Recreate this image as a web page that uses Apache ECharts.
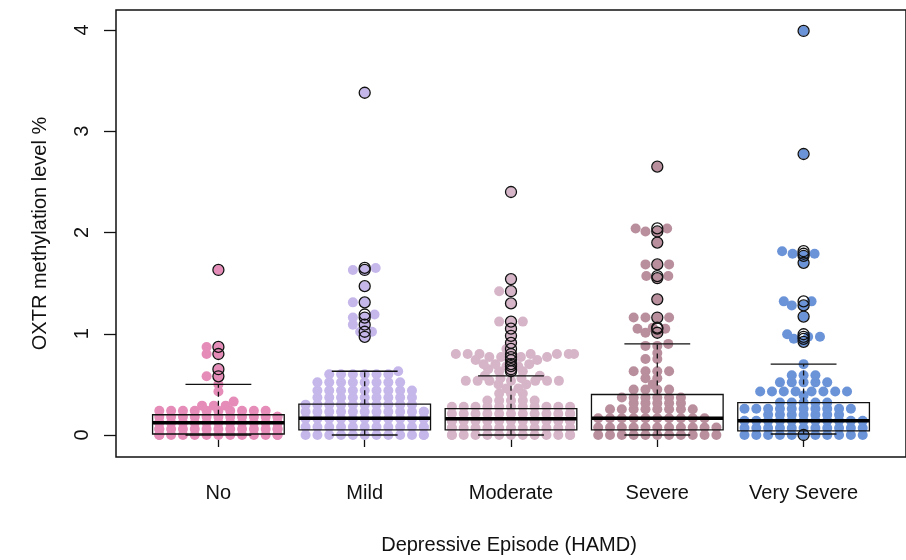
<!DOCTYPE html>
<html>
<head>
<meta charset="utf-8">
<script src="https://cdn.jsdelivr.net/npm/echarts@6/dist/echarts.min.js"></script>
<style>
    html, body { margin: 0; padding: 0; background: #fff; }
    #main { width: 906px; height: 560px; }
</style>
</head>
<body>
<div id="main"></div>
<script>
var categories = ['No', 'Mild', 'Moderate', 'Severe', 'Very Severe'];
var y_ticks = [0, 1, 2, 3, 4];

// rows of the swarm: [methylation %, number of subjects at that level]
var no_rows = [[0.00, 13], [0.06, 13], [0.12, 13], [0.18, 12], [0.24, 10], [0.29, 3], [0.33, 1],
    [0.43, 1], [0.50, 1], [0.58, 2], [0.65, 1], [0.80, 2], [0.87, 2], [1.63, 1]];
var mild_rows = [[0.00, 12], [0.08, 12], [0.16, 12], [0.23, 12], [0.30, 10], [0.37, 9], [0.44, 9],
    [0.52, 8], [0.60, 6], [0.63, 1],
    [0.97, 1], [1.02, 2], [1.09, 2], [1.16, 2], [1.19, 1], [1.31, 2], [1.47, 1], [1.63, 2], [1.65, 1], [3.38, 1]];
var moderate_rows = [[0.00, 13], [0.07, 13], [0.14, 13], [0.21, 12], [0.28, 11], [0.34, 5], [0.41, 3],
    [0.46, 2], [0.50, 2], [0.535, 7], [0.56, 2], [0.585, 2],
    [0.63, 3], [0.65, 1], [0.68, 2], [0.70, 3], [0.74, 3], [0.77, 4], [0.80, 8], [0.85, 1], [0.91, 1],
    [0.98, 1], [1.05, 1], [1.12, 3], [1.30, 1], [1.42, 2], [1.54, 1], [2.40, 1]];
var severe_rows = [[0.00, 11], [0.075, 11], [0.165, 10], [0.255, 8], [0.315, 5], [0.37, 6], [0.45, 4],
    [0.50, 1], [0.56, 2], [0.63, 4], [0.75, 2], [0.81, 1], [0.88, 2], [0.90, 1],
    [1.01, 2], [1.05, 2], [1.06, 1], [1.16, 4], [1.34, 1], [1.55, 1], [1.57, 2], [1.685, 3], [1.90, 1],
    [2.01, 2], [2.04, 2], [2.65, 1]];
var very_severe_rows = [[0.00, 11], [0.07, 11], [0.14, 11], [0.20, 7], [0.26, 10], [0.32, 5], [0.39, 1],
    [0.43, 8], [0.52, 5], [0.59, 3], [0.70, 1],
    [0.92, 1], [0.95, 1], [0.97, 2], [0.995, 1], [1.17, 1], [1.28, 2], [1.32, 2], [1.70, 1], [1.77, 1],
    [1.79, 2], [1.815, 1], [2.775, 1], [3.99, 1]];
var group_rows = [no_rows, mild_rows, moderate_rows, severe_rows, very_severe_rows];

// boxplot: [lower whisker, q1, median, q3, upper whisker]
var box_stats = [
    [0.00, 0.01, 0.12, 0.20, 0.50],
    [0.00, 0.05, 0.165, 0.305, 0.63],
    [0.00, 0.05, 0.16, 0.26, 0.585],
    [0.00, 0.05, 0.165, 0.40, 0.90],
    [0.01, 0.04, 0.14, 0.32, 0.70]
];

var dot_colors = ['#e58db8', '#c6b7ea', '#d6b5c8', '#b98f9d', '#6b93d7'];

var font = '"Liberation Sans", Arial, Helvetica, sans-serif';
var grid = { left: 116, right: -12, top: 10, bottom: 102 };
var x_min = 0.3, x_max = 5.7, y_min = -0.217, y_max = 4.197;
var px_x = (906 - grid.left - grid.right) / (x_max - x_min);
var px_y = (560 - grid.top - grid.bottom) / (y_max - y_min);

// beeswarm "swarm" placement (pixels), then wrapped inside the corral
var DX = 12, DY = 5.5, LIM = 66;
function swarm(rows) {
    var vals = [];
    rows.forEach(function (r) { for (var i = 0; i < r[1]; i++) vals.push(r[0]); });
    vals.sort(function (a, b) { return a - b; });
    var placed = [];
    vals.forEach(function (v) {
        var y = v * px_y;
        var cands = [0];
        placed.forEach(function (p) {
            var dy = Math.abs(p.y - y);
            if (dy < DY) {
                var dx = DX * Math.sqrt(1 - (dy / DY) * (dy / DY));
                cands.push(p.x - dx, p.x + dx);
            }
        });
        cands.sort(function (a, b) { return (Math.abs(a) - Math.abs(b)) || (a - b); });
        var x = cands.find(function (c) {
            return placed.every(function (p) {
                var ex = (p.x - c) / DX, ey = (p.y - y) / DY;
                return ex * ex + ey * ey >= 0.999;
            });
        });
        placed.push({ x: x, y: y, v: v });
    });
    return placed.map(function (p) {
        var x = p.x;
        if (Math.abs(x) > LIM) x = (((x + LIM) % (2 * LIM)) + 2 * LIM) % (2 * LIM) - LIM;
        return { x: x / px_x, v: p.v };
    });
}

var series = [];
group_rows.forEach(function (rows, i) {
    var pts = swarm(rows);
    series.push({
        name: categories[i],
        type: 'scatter',
        z: 2,
        symbol: 'circle',
        symbolSize: 10,
        itemStyle: { color: dot_colors[i], opacity: 1 },
        data: pts.map(function (p) { return [i + 1 + p.x, p.v]; })
    });
});

series.push({
    type: 'custom',
    z: 3,
    encode: { x: 0, y: [1, 2, 3, 4, 5] },
    data: box_stats.map(function (s, i) { return [i + 1].concat(s); }),
    renderItem: function (params, api) {
        var x = api.value(0);
        var lo = api.coord([x, api.value(1)]);
        var q1 = api.coord([x, api.value(2)]);
        var md = api.coord([x, api.value(3)]);
        var q3 = api.coord([x, api.value(4)]);
        var hi = api.coord([x, api.value(5)]);
        var hw = api.size([0.45, 0])[0];
        var sw = hw / 2;
        var cx = md[0];
        var line = { stroke: '#111', lineWidth: 1.3, fill: null };
        var dash = { stroke: '#111', lineWidth: 1.3, lineDash: [5, 4], fill: null };
        return {
            type: 'group',
            children: [
                { type: 'line', shape: { x1: cx, y1: q3[1], x2: cx, y2: hi[1] }, style: dash },
                { type: 'line', shape: { x1: cx, y1: q1[1], x2: cx, y2: lo[1] }, style: dash },
                { type: 'line', shape: { x1: cx - sw, y1: hi[1], x2: cx + sw, y2: hi[1] }, style: line },
                { type: 'line', shape: { x1: cx - sw, y1: lo[1], x2: cx + sw, y2: lo[1] }, style: line },
                { type: 'rect', shape: { x: cx - hw, y: q3[1], width: 2 * hw, height: q1[1] - q3[1] }, style: line },
                { type: 'line', shape: { x1: cx - hw, y1: md[1], x2: cx + hw, y2: md[1] },
                  style: { stroke: '#000', lineWidth: 3.5 } }
            ]
        };
    }
});

// open circles for values beyond the whiskers
var outliers = [];
group_rows.forEach(function (rows, i) {
    rows.forEach(function (r) {
        if (r[0] > box_stats[i][4] || r[0] < box_stats[i][0]) outliers.push([i + 1, r[0]]);
    });
});
series.push({
    type: 'scatter',
    z: 4,
    symbol: 'circle',
    symbolSize: 11,
    itemStyle: { color: 'rgba(0,0,0,0)', borderColor: '#111', borderWidth: 1.3, opacity: 1 },
    data: outliers
});

var chart = echarts.init(document.getElementById('main'));
chart.setOption({
    animation: false,
    backgroundColor: '#fff',
    textStyle: { fontFamily: font },
    grid: {
        left: grid.left, right: grid.right, top: grid.top, bottom: grid.bottom,
        show: true, borderColor: '#111', borderWidth: 1.5, backgroundColor: 'transparent'
    },
    xAxis: {
        type: 'value',
        min: x_min,
        max: x_max,
        name: 'Depressive Episode (HAMD)',
        nameLocation: 'middle',
        nameGap: 78,
        nameTextStyle: { fontSize: 20, color: '#111', fontFamily: font, padding: [0, 4, 0, 0] },
        axisLine: { show: false },
        splitLine: { show: false },
        axisTick: { show: true, inside: false, length: 12, customValues: [1, 2, 3, 4, 5],
            lineStyle: { color: '#111', width: 1.3 } },
        axisLabel: {
            customValues: [1, 2, 3, 4, 5],
            margin: 26,
            fontSize: 20,
            color: '#111',
            fontFamily: font,
            formatter: function (v) { return categories[Math.round(v) - 1]; }
        }
    },
    yAxis: {
        type: 'value',
        min: y_min,
        max: y_max,
        name: 'OXTR methylation level %',
        nameLocation: 'middle',
        nameGap: 66,
        nameTextStyle: { fontSize: 20, color: '#111', fontFamily: font },
        axisLine: { show: false },
        splitLine: { show: false },
        axisTick: { show: true, inside: false, length: 12, customValues: y_ticks,
            lineStyle: { color: '#111', width: 1.3 } },
        axisLabel: {
            customValues: y_ticks,
            rotate: 90,
            margin: 24,
            fontSize: 20,
            color: '#111',
            fontFamily: font
        }
    },
    series: series
});
</script>
</body>
</html>
